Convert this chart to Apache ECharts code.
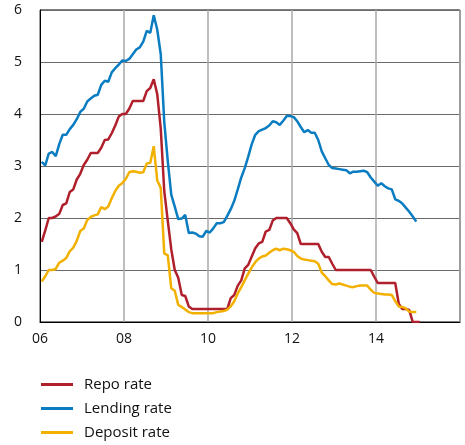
<!DOCTYPE html>
<html>
<head>
<meta charset="utf-8">
<script src="https://cdn.jsdelivr.net/npm/echarts@6/dist/echarts.min.js"></script>
<style>
  html, body { margin: 0; padding: 0; background: #fff; }
  #chart { width: 465px; height: 445px; }
</style>
</head>
<body>
<div id="chart"></div>
<script>
// monthly figures, first value is January 2006
var startYear = 2006
var xTicks = ['06', '08', '10', '12', '14']

var repoRate = [
  1.54, 1.76, 2.0, 2.0, 2.03, 2.08, 2.25, 2.28, 2.5, 2.55, 2.74, 2.85,
  3.02, 3.12, 3.25, 3.25, 3.25, 3.35, 3.5, 3.51, 3.63, 3.78, 3.95, 4.0,
  4.0, 4.1, 4.25, 4.25, 4.25, 4.25, 4.44, 4.5, 4.67, 4.38, 3.72, 2.52,
  1.95, 1.4, 1.0, 0.85, 0.52, 0.5, 0.3, 0.25, 0.25, 0.25, 0.25, 0.25,
  0.25, 0.25, 0.25, 0.25, 0.25, 0.25, 0.46, 0.52, 0.7, 0.8, 1.03, 1.1,
  1.26, 1.42, 1.51, 1.54, 1.74, 1.77, 1.95, 2.0, 2.0, 2.0, 2.0, 1.9,
  1.78, 1.71, 1.5, 1.5, 1.5, 1.5, 1.5, 1.5, 1.35, 1.25, 1.25, 1.12,
  1.0, 1.0, 1.0, 1.0, 1.0, 1.0, 1.0, 1.0, 1.0, 1.0, 1.0, 0.87,
  0.75, 0.75, 0.75, 0.75, 0.75, 0.75, 0.35, 0.25, 0.25, 0.23, 0.0, 0.0,
  0.0
]

var lendingRate = [
  3.08, 3.01, 3.24, 3.27, 3.19, 3.42, 3.6, 3.6, 3.71, 3.79, 3.9, 4.04,
  4.1, 4.24, 4.3, 4.35, 4.37, 4.56, 4.64, 4.62, 4.8, 4.88, 4.95, 5.03,
  5.02, 5.06, 5.15, 5.24, 5.28, 5.39, 5.6, 5.56, 5.9, 5.62, 5.15, 3.85,
  3.1, 2.45, 2.22, 1.98, 1.99, 2.06, 1.71, 1.72, 1.7, 1.65, 1.64, 1.75,
  1.72, 1.8, 1.9, 1.9, 1.92, 2.04, 2.17, 2.33, 2.55, 2.78, 2.96, 3.18,
  3.42, 3.6, 3.67, 3.7, 3.73, 3.78, 3.86, 3.84, 3.79, 3.87, 3.96, 3.96,
  3.94, 3.86, 3.75, 3.65, 3.69, 3.64, 3.64, 3.5, 3.28, 3.15, 3.02, 2.96,
  2.95, 2.94, 2.93, 2.92, 2.86, 2.89, 2.89, 2.9, 2.91, 2.88, 2.78, 2.7,
  2.62, 2.67, 2.61, 2.57, 2.55, 2.36, 2.33, 2.28, 2.2, 2.12, 2.03, 1.93
]

var depositRate = [
  0.78, 0.88, 1.0, 1.0, 1.02, 1.14, 1.18, 1.23, 1.36, 1.43, 1.56, 1.75,
  1.8, 1.96, 2.02, 2.05, 2.07, 2.21, 2.17, 2.22, 2.38, 2.52, 2.62, 2.67,
  2.75, 2.88, 2.9, 2.89, 2.87, 2.88, 3.05, 3.06, 3.38, 2.72, 2.58, 1.32,
  1.28, 0.65, 0.6, 0.33, 0.29, 0.24, 0.19, 0.17, 0.17, 0.17, 0.17, 0.17,
  0.17, 0.17, 0.19, 0.2, 0.21, 0.24, 0.3, 0.4, 0.55, 0.67, 0.8, 0.93,
  1.05, 1.15, 1.22, 1.26, 1.28, 1.33, 1.38, 1.41, 1.38, 1.41, 1.4, 1.38,
  1.35, 1.27, 1.22, 1.2, 1.19, 1.18, 1.17, 1.12, 0.95, 0.88, 0.8, 0.73,
  0.72, 0.74, 0.72, 0.7, 0.68, 0.67, 0.69, 0.7, 0.7, 0.7, 0.62, 0.56,
  0.55, 0.54, 0.53, 0.53, 0.52, 0.4, 0.3, 0.29, 0.26, 0.2, 0.19, 0.19
]

var seriesNames = ['Repo rate', 'Lending rate', 'Deposit rate']
var colors = ['#b01f2c', '#0a7cc1', '#f2b100']

// each month is placed at its middle on a year scale
function toPoints(values){
  return values.map(function(v, i){
    return [startYear + (i + 0.5) / 12, v]
  })
}

var font = '"Open Sans", "Noto Sans", sans-serif'

var chart = echarts.init(document.getElementById('chart'), null, {renderer: 'canvas'})

var option = {
  animation: false,
  color: colors,
  grid: {
    left: 40, right: 5, top: 10, bottom: 123,
    show: true, borderColor: '#000', borderWidth: 1
  },
  legend: {
    orient: 'vertical',
    left: 36,
    top: 372,
    itemWidth: 32,
    itemHeight: 3,
    itemGap: 9,
    icon: 'rect',
    data: seriesNames,
    textStyle: {fontFamily: font, fontSize: 15, color: '#111', padding: [0, 0, 0, 6]}
  },
  xAxis: {
    type: 'value',
    min: 2006, max: 2016, interval: 2,
    axisLine: {show: true, lineStyle: {color: '#000', width: 1}},
    axisTick: {show: false},
    axisLabel: {
      fontFamily: font, fontSize: 14, color: '#111', margin: 10,
      formatter: function(v){
        var idx = (v - 2006) / 2
        return xTicks[idx] || ''
      }
    },
    splitLine: {show: true, lineStyle: {color: '#a8a8a8', width: 1.5}}
  },
  yAxis: {
    type: 'value',
    min: 0, max: 6, interval: 1,
    axisLine: {show: true, lineStyle: {color: '#000', width: 1}},
    axisTick: {show: false},
    axisLabel: {fontFamily: font, fontSize: 14, color: '#111', margin: 18},
    splitLine: {show: true, lineStyle: {color: '#6a6a6a', width: 1}}
  },
  series: [
    {name: seriesNames[0], type: 'line', data: toPoints(repoRate)},
    {name: seriesNames[1], type: 'line', data: toPoints(lendingRate)},
    {name: seriesNames[2], type: 'line', data: toPoints(depositRate)}
  ].map(function(s){
    s.showSymbol = false
    s.symbol = 'none'
    s.lineStyle = {width: 2.5}
    return s
  })
}

chart.setOption(option)
</script>
</body>
</html>
